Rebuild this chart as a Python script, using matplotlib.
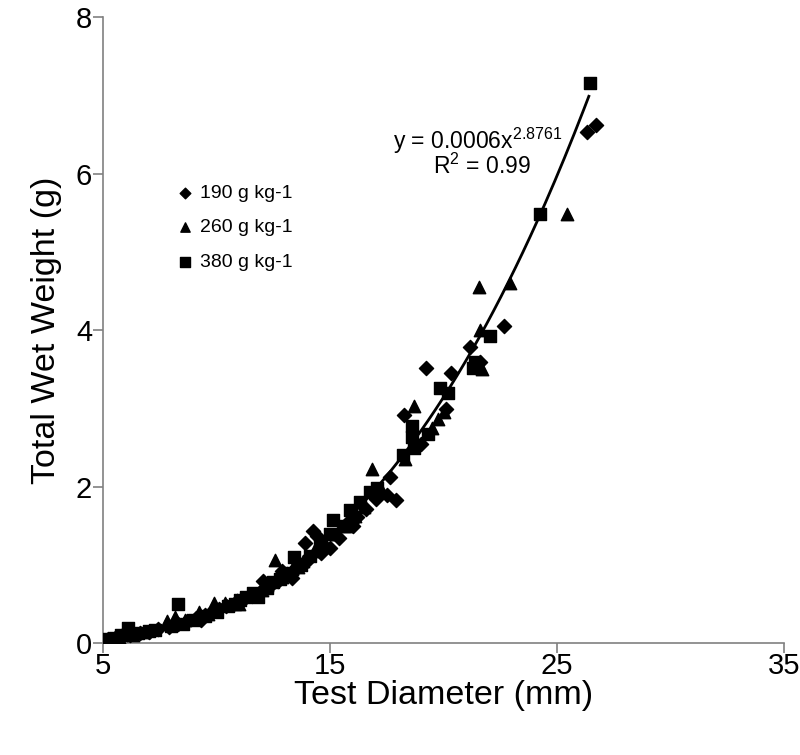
import numpy as np
import matplotlib
matplotlib.use("Agg")
import matplotlib.pyplot as plt

plt.rcParams['font.family'] = ['Liberation Sans', 'DejaVu Sans']
plt.rcParams['mathtext.fontset'] = 'custom'
plt.rcParams['mathtext.rm'] = 'Liberation Sans'
plt.rcParams['mathtext.it'] = 'Liberation Sans'

# 190 g kg-1 (diamonds)
d190_x = [5.2, 5.5, 5.8, 6.2, 6.6, 7.0, 7.4, 7.9, 8.3, 8.7, 9.1, 9.5, 9.9,
          10.4, 10.8, 11.2, 11.6, 12.05, 12.3, 12.7, 13.1, 13.5, 13.9, 14.25,
          14.0, 14.6, 15.0, 15.4, 15.8, 16.2, 16.6, 17.0, 17.5, 17.9, 17.64,
          18.26, 19.23, 20.33, 21.17, 22.67, 19.0, 20.1, 21.6, 26.3, 26.7,
          14.4, 12.9, 16.0, 9.3, 10.1, 11.9, 13.3]
d190_y = [0.06, 0.07, 0.09, 0.11, 0.13, 0.15, 0.18, 0.21, 0.24, 0.28, 0.32, 0.36, 0.41,
          0.47, 0.52, 0.57, 0.62, 0.80, 0.72, 0.80, 0.88, 0.95, 1.28, 1.44,
          1.05, 1.15, 1.22, 1.35, 1.55, 1.62, 1.72, 1.85, 1.89, 1.83, 2.12,
          2.92, 3.52, 3.46, 3.79, 4.06, 2.55, 3.00, 3.60, 6.54, 6.63,
          1.37, 0.92, 1.50, 0.30, 0.44, 0.66, 0.84]

# 260 g kg-1 (triangles)
t260_x = [5.3, 5.7, 6.3, 6.8, 7.8, 8.17, 8.6, 9.2, 9.9, 10.37, 10.9, 11.5,
          12.0, 12.58, 12.9, 13.3, 13.8, 14.3, 14.8, 15.3, 15.7, 16.1, 16.5,
          16.85, 17.3, 18.7, 19.76, 19.5, 20.0, 21.56, 21.7, 21.6, 22.93,
          25.44, 18.3, 11.0, 12.2, 13.6, 9.6]
t260_y = [0.06, 0.08, 0.10, 0.14, 0.29, 0.33, 0.30, 0.40, 0.51, 0.52, 0.55, 0.62,
          0.68, 1.07, 0.85, 0.95, 1.05, 1.18, 1.25, 1.40, 1.50, 1.63, 1.74,
          2.23, 1.95, 3.03, 2.87, 2.75, 2.95, 4.55, 3.50, 4.00, 4.60,
          5.49, 2.35, 0.50, 0.74, 0.98, 0.38]

# 380 g kg-1 (squares)
s380_x = [5.1, 5.5, 6.1, 6.54, 7.3, 8.30, 8.5, 9.0, 9.5, 10.0, 10.5, 11.03,
          11.3, 11.6, 11.83, 12.2, 12.8, 13.2, 13.4, 13.7, 14.56, 15.0, 15.13,
          15.6, 15.88, 16.3, 16.76, 17.07, 18.2, 18.7, 18.6, 18.6, 19.3, 19.85,
          21.3, 22.05, 24.25, 26.45, 20.2, 21.4, 5.8, 7.0, 12.5, 14.1, 10.8, 8.0]
s380_y = [0.06, 0.07, 0.20, 0.13, 0.17, 0.50, 0.25, 0.30, 0.35, 0.40, 0.47, 0.55,
          0.59, 0.64, 0.59, 0.70, 0.82, 0.90, 1.10, 1.00, 1.28, 1.40, 1.57,
          1.50, 1.70, 1.80, 1.93, 1.99, 2.40, 2.49, 2.78, 2.63, 2.68, 3.26,
          3.52, 3.93, 5.49, 7.16, 3.20, 3.60, 0.10, 0.16, 0.78, 1.12, 0.50, 0.22]

# power trendline (as drawn)
fit_a = 0.00057
fit_b = 2.8761
fit_xmin, fit_xmax = 5.0, 26.4

fig = plt.figure(figsize=(8, 7.55), dpi=100)
ax = fig.add_axes([0.129, 0.148, 0.851, 0.829])

ax.scatter(d190_x, d190_y, marker='D', s=52, color='black', zorder=3, label='190 g kg-1')
ax.scatter(t260_x, t260_y, marker='^', s=80, color='black', zorder=3, label='260 g kg-1')
ax.scatter(s380_x, s380_y, marker='s', s=80, color='black', zorder=3, label='380 g kg-1')

xf = np.linspace(fit_xmin, fit_xmax, 200)
ax.plot(xf, fit_a * xf ** fit_b, color='black', lw=2, zorder=4)

ax.set_xlim(5, 35)
ax.set_ylim(0, 8)
ax.set_xticks([5, 15, 25, 35])
ax.set_yticks([0, 2, 4, 6, 8])
for s in ['top', 'right']:
    ax.spines[s].set_visible(False)
for s in ['left', 'bottom']:
    ax.spines[s].set_color('#808080')
    ax.spines[s].set_linewidth(1.2)
ax.tick_params(direction='out', length=7, width=1.2, color='#808080',
               labelsize=21, pad=1)
ax.tick_params(axis='x', pad=-1)
ax.set_xlabel('Test Diameter (mm)', fontsize=24.5, labelpad=0)
ax.set_ylabel('Total Wet Weight (g)', fontsize=24.5, labelpad=10)

ax.text(21.5, 6.42, 'y = 0.0006x$^{2.8761}$', fontsize=16.5, ha='center', va='center')
ax.text(21.7, 6.09, 'R$^{2}$ = 0.99', fontsize=16.5, ha='center', va='center')

ax.legend(loc='upper left', bbox_to_anchor=(0.095, 0.745), frameon=False,
          fontsize=14, handlelength=1.0, handletextpad=0.25, labelspacing=0.85,
          markerscale=0.75, borderaxespad=0)

fig.savefig('out.png', dpi=100)
